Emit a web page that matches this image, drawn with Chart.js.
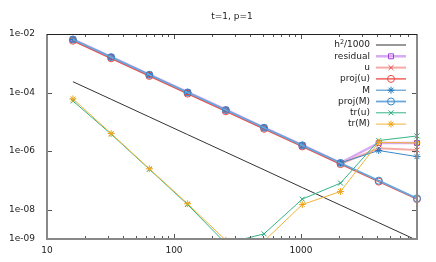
<!DOCTYPE html>
<html>
<head>
<meta charset="utf-8">
<script src="https://cdn.jsdelivr.net/npm/chart.js@4"></script>
<style>
  html, body { margin: 0; padding: 0; background: #fff; }
  #wrap { width: 436px; height: 262px; }
</style>
</head>
<body>
<div id="wrap"><canvas id="errChart" width="436" height="262"></canvas></div>
<script>
// mesh sizes (x) and error values
const meshN = [16, 32, 64, 128, 256, 512, 1024, 2048, 4096, 8192];

const h2Ref    = [2.35e-4, 5.9e-5, 1.47e-5, 3.67e-6, 9.2e-7, 2.3e-7, 5.7e-8, 1.43e-8, 3.6e-9, 9.0e-10];
const residual = [6.6e-3, 1.65e-3, 4.1e-4, 1.03e-4, 2.6e-5, 6.4e-6, 1.6e-6, 4.0e-7, 1.9e-6, 1.9e-6];
const errU     = [6.0e-3, 1.5e-3, 3.75e-4, 9.4e-5, 2.35e-5, 5.9e-6, 1.47e-6, 3.7e-7, 1.25e-6, 1.1e-6];
const projU    = [5.9e-3, 1.48e-3, 3.7e-4, 9.2e-5, 2.3e-5, 5.8e-6, 1.45e-6, 3.6e-7, 9.1e-8, 2.3e-8];
const errM     = [6.5e-3, 1.63e-3, 4.1e-4, 1.02e-4, 2.55e-5, 6.4e-6, 1.6e-6, 4.0e-7, 1.05e-6, 6.5e-7];
const projM    = [6.5e-3, 1.62e-3, 4.05e-4, 1.01e-4, 2.53e-5, 6.3e-6, 1.58e-6, 3.95e-7, 9.8e-8, 2.45e-8];
const trU      = [5.2e-5, 3.8e-6, 2.4e-7, 1.5e-8, 7e-10, 1.5e-9, 2.3e-8, 8.1e-8, 2.3e-6, 3.3e-6];
const trM      = [6.1e-5, 4.0e-6, 2.5e-7, 1.6e-8, 9e-10, 8.5e-10, 1.5e-8, 4.2e-8, 2.0e-6, 1.9e-6];

const xTicks = [10, 100, 1000];
const yTicks = [1e-9, 1e-8, 1e-6, 1e-4, 1e-2];
const titleText = "t=1, p=1";

const FONT = "DejaVu Sans";

// ===============================
// series definitions
// ===============================
const series = [
  { label: "h2/1000", data: h2Ref, line: "#333333", lw: 1, mark: "#333333", style: false },
  { label: "residual", data: residual, line: "#d9aaf2", lw: 2.5, mark: "#a040d8", style: "rect" },
  { label: "u", data: errU, line: "#f5aaa6", lw: 2, mark: "#ec4a44", style: "crossRot" },
  { label: "proj(u)", data: projU, line: "#ec4a44", lw: 1.3, mark: "#ec4a44", style: "circle" },
  { label: "M", data: errM, line: "#3d88c8", lw: 1, mark: "#2277bb", style: "star" },
  { label: "proj(M)", data: projM, line: "#6aa8dc", lw: 1.8, mark: "#3a88c8", style: "circle" },
  { label: "tr(u)", data: trU, line: "#33b488", lw: 1, mark: "#22a878", style: "crossRot" },
  { label: "tr(M)", data: trM, line: "#f0b23a", lw: 1, mark: "#f0a51c", style: "star" },
];

const datasets = series.map((s, i) => ({
  label: s.label,
  data: meshN.map((n, k) => ({ x: n, y: s.data[k] })),
  borderColor: s.line,
  borderWidth: s.lw,
  pointStyle: s.style || "circle",
  pointRadius: s.style ? 3.5 : 0,
  pointBorderColor: s.mark,
  pointBackgroundColor: "rgba(0,0,0,0)",
  pointBorderWidth: 1,
  tension: 0,
  order: series.length - i,
  clip: { left: 0, top: 0, right: 6, bottom: 0 },
}));

// ===============================
// frame, inner ticks, title, legend
// ===============================
const gnuplotDeco = {
  id: "gnuplotDeco",
  afterDatasetsDraw(chart) {
    const { ctx, chartArea: a, scales } = chart;
    const xs = scales.x, ys = scales.y;
    ctx.save();

    // x ticks (top + bottom, inward)
    ctx.strokeStyle = "#555";
    ctx.lineWidth = 1;
    for (let d = 10; d <= 1000; d *= 10) {
      for (let m = 1; m <= 9; m++) {
        const v = d * m;
        if (v > 8192) break;
        const px = Math.round(xs.getPixelForValue(v)) + 0.5;
        const len = m === 1 ? 5 : 3;
        ctx.beginPath();
        ctx.moveTo(px, a.bottom); ctx.lineTo(px, a.bottom - len);
        ctx.moveTo(px, a.top); ctx.lineTo(px, a.top + len);
        ctx.stroke();
      }
    }
    // y ticks (left + right, inward)
    yTicks.forEach(v => {
      const py = Math.round(ys.getPixelForValue(v)) + 0.5;
      ctx.beginPath();
      ctx.moveTo(a.left, py); ctx.lineTo(a.left + 5, py);
      ctx.moveTo(a.right, py); ctx.lineTo(a.right - 5, py);
      ctx.stroke();
    });

    // border
    ctx.strokeStyle = "#888";
    ctx.lineWidth = 2;
    ctx.beginPath();
    ctx.moveTo(a.left, a.top); ctx.lineTo(a.left, a.bottom);
    ctx.lineTo(a.right, a.bottom); ctx.lineTo(a.right, a.top);
    ctx.stroke();
    ctx.strokeStyle = "#222";
    ctx.lineWidth = 1;
    ctx.beginPath();
    ctx.moveTo(a.left, a.top + 0.5); ctx.lineTo(a.right, a.top + 0.5);
    ctx.stroke();

    // title
    ctx.fillStyle = "#222";
    ctx.font = `9px "${FONT}"`;
    ctx.textAlign = "center";
    ctx.textBaseline = "middle";
    ctx.fillText(titleText, (a.left + a.right) / 2, 17);

    // legend
    const textRight = 370, lx0 = 376, lx1 = 406, row0 = 45, rowH = 11.3;
    ctx.textAlign = "right";
    series.forEach((s, i) => {
      const y = row0 + i * rowH;
      ctx.fillStyle = "#222";
      if (i === 0) {
        ctx.font = `9px "${FONT}"`;
        const w1 = ctx.measureText("/1000").width;
        ctx.fillText("/1000", textRight, y);
        ctx.font = `6.5px "${FONT}"`;
        const w2 = ctx.measureText("2").width;
        ctx.fillText("2", textRight - w1, y - 3);
        ctx.font = `9px "${FONT}"`;
        ctx.fillText("h", textRight - w1 - w2, y);
      } else {
        ctx.font = `9px "${FONT}"`;
        ctx.fillText(s.label, textRight, y);
      }
      ctx.strokeStyle = s.line;
      ctx.lineWidth = s.lw;
      ctx.beginPath();
      ctx.moveTo(lx0, y); ctx.lineTo(lx1, y);
      ctx.stroke();
      if (s.style) {
        ctx.strokeStyle = s.mark;
        ctx.fillStyle = "rgba(0,0,0,0)";
        ctx.lineWidth = 1;
        Chart.helpers.drawPoint(ctx, { pointStyle: s.style, radius: 3.5, borderWidth: 1, rotation: 0 }, (lx0 + lx1) / 2, y);
      }
    });

    ctx.restore();
  },
};

function expLabel(v) {
  const e = Math.round(Math.log10(v));
  return "1e-" + String(-e).padStart(2, "0");
}

new Chart(document.getElementById("errChart"), {
  type: "line",
  data: { datasets },
  plugins: [gnuplotDeco],
  options: {
    responsive: false,
    animation: false,
    layout: { padding: { top: 34, right: 19, left: 0, bottom: 0 } },
    plugins: { legend: { display: false }, tooltip: { enabled: false }, title: { display: false } },
    scales: {
      x: {
        type: "logarithmic",
        min: 10,
        max: 8192,
        grid: { display: false, drawTicks: false },
        border: { display: false },
        afterBuildTicks: (sc) => { sc.ticks = xTicks.map(v => ({ value: v })); },
        afterFit: (sc) => { sc.height = 23; },
        ticks: {
          autoSkip: false,
          maxRotation: 0,
          padding: 6,
          color: "#222",
          font: { family: FONT, size: 9 },
          callback: (v) => String(v),
        },
      },
      y: {
        type: "logarithmic",
        min: 1e-9,
        max: 1e-2,
        grid: { display: false, drawTicks: false },
        border: { display: false },
        afterBuildTicks: (sc) => { sc.ticks = yTicks.map(v => ({ value: v })); },
        afterFit: (sc) => { sc.width = 47; },
        ticks: {
          autoSkip: false,
          padding: 12,
          color: "#222",
          font: { family: FONT, size: 9 },
          callback: (v) => expLabel(v),
        },
      },
    },
  },
});
</script>
</body>
</html>
